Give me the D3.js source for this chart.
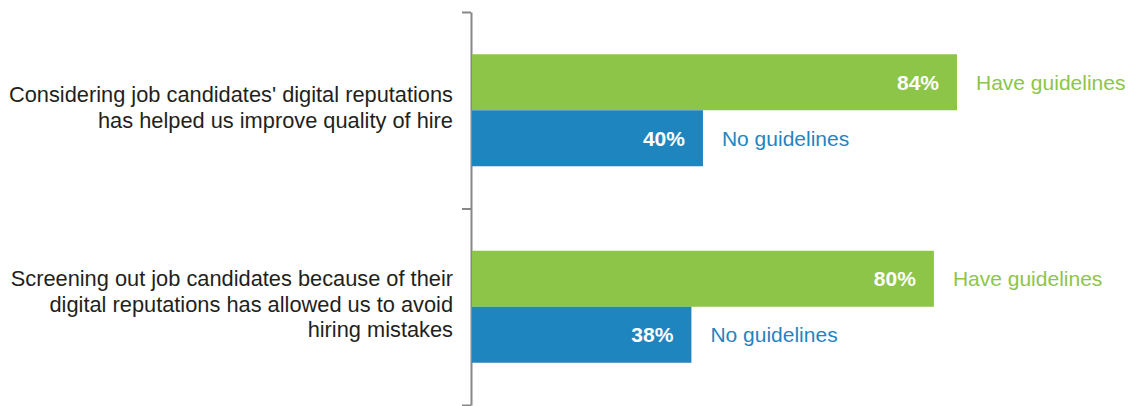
<!DOCTYPE html>
<html>
<head>
<meta charset="utf-8">
<script src="https://cdn.jsdelivr.net/npm/d3@7"></script>
<style>
  body { margin: 0; background: #fff; }
  text { font-family: "Liberation Sans", Arial, Helvetica, sans-serif; }
</style>
</head>
<body>
<svg id="chart"></svg>
<script>
// data
let questions = [
    ["Considering job candidates' digital reputations", "has helped us improve quality of hire"],
    ["Screening out job candidates because of their", "digital reputations has allowed us to avoid", "hiring mistakes"]
];
let seriesNames = ["Have guidelines", "No guidelines"];
let haveGuidelines = [84, 80];
let noGuidelines = [40, 38];

let colors = ["#8dc548", "#1f85bf"];

let width = 1128, height = 406;
let svg = d3.select("#chart")
    .attr("width", width)
    .attr("height", height);

let padding = { top: 12, bottom: 1, left: 472 };

let yGroup = d3.scaleBand()
    .domain(d3.range(questions.length))
    .range([padding.top, height - padding.bottom]);

let ySeries = d3.scaleBand()
    .domain(seriesNames)
    .range([0, 112])
    .paddingInner(0);

let xScale = d3.scaleLinear()
    .domain([0, 84])
    .range([padding.left, 957]);

// axis with ticks at group boundaries
let boundary = d3.scaleLinear()
    .domain([0, questions.length])
    .range([padding.top, height - padding.bottom]);

let axis = svg.append("g")
    .attr("transform", "translate(" + (padding.left - 1) + ",0)")
    .call(d3.axisLeft(boundary)
        .tickValues(d3.range(questions.length + 1))
        .tickFormat("")
        .tickSize(9)
        .tickSizeOuter(0));
axis.selectAll("path, line")
    .attr("stroke", "#878787")
    .attr("stroke-width", 2);

let rows = questions.map((q, i) => ({
    q: q,
    values: [
        { name: seriesNames[0], value: haveGuidelines[i], color: colors[0] },
        { name: seriesNames[1], value: noGuidelines[i], color: colors[1] }
    ]
}));

let groups = svg.selectAll(".group")
    .data(rows)
    .enter()
    .append("g")
    .classed("group", true)
    .attr("transform", (d, i) => "translate(0," + (yGroup(i) + yGroup.bandwidth() / 2 - 56) + ")");

groups.selectAll("rect")
    .data(d => d.values)
    .enter()
    .append("rect")
    .attr("x", xScale(0))
    .attr("y", d => ySeries(d.name))
    .attr("width", d => xScale(d.value) - xScale(0))
    .attr("height", ySeries.bandwidth())
    .attr("fill", d => d.color);

groups.selectAll(".value")
    .data(d => d.values)
    .enter()
    .append("text")
    .classed("value", true)
    .attr("x", d => xScale(d.value) - 18)
    .attr("y", d => ySeries(d.name) + ySeries.bandwidth() / 2)
    .attr("dy", "0.36em")
    .attr("text-anchor", "end")
    .attr("fill", "#fff")
    .attr("font-weight", "bold")
    .attr("font-size", "21px")
    .text(d => d.value + "%");

groups.selectAll(".series")
    .data(d => d.values)
    .enter()
    .append("text")
    .classed("series", true)
    .attr("x", d => xScale(d.value) + 19)
    .attr("y", d => ySeries(d.name) + ySeries.bandwidth() / 2)
    .attr("dy", "0.36em")
    .attr("fill", d => d.color)
    .attr("font-size", "21px")
    .text(d => d.name);

// question labels
groups.each(function(d) {
    let n = d.q.length;
    let lineH = 25.5;
    let mid = 56 - 3;
    d3.select(this).append("text")
        .attr("text-anchor", "end")
        .attr("font-size", "21.8px")
        .attr("fill", "#231f20")
        .selectAll("tspan")
        .data(d.q)
        .enter()
        .append("tspan")
        .attr("x", 453)
        .attr("y", (t, j) => mid + (j - (n - 1) / 2) * lineH)
        .attr("dy", "0.36em")
        .text(t => t);
});
</script>
</body>
</html>
